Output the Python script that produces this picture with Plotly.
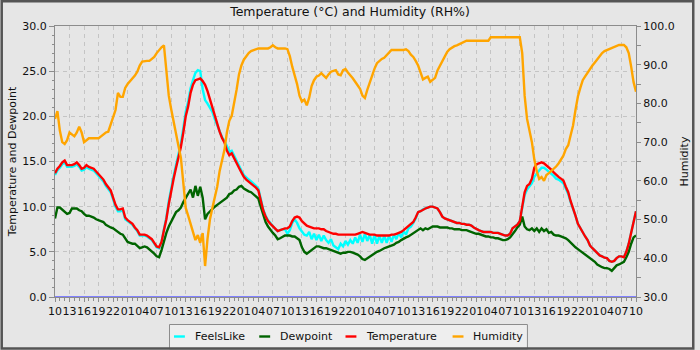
import pandas as pd
import plotly.graph_objects as go

# Half-hourly observations over five days, starting at 10:00
start = pd.Timestamp("2024-03-10 10:00")
times = pd.date_range(start, periods=241, freq="30min")

temperature = [
    13.7, 14.2, 14.5, 14.9, 15.1, 14.6, 14.6, 14.6, 14.7, 14.9,
    14.6, 14.2, 14.3, 14.6, 14.4, 14.3, 14.2, 13.9, 13.6, 13.3,
    13.0, 12.5, 12.2, 11.8, 11.0, 10.2, 9.7, 9.7, 9.8, 8.8,
    8.5, 8.3, 8.1, 7.7, 7.4, 6.9, 6.9, 6.9, 6.8, 6.6,
    6.4, 6.0, 5.6, 5.5, 6.1, 7.4, 8.6, 10.3, 11.8, 13.1,
    14.3, 15.3, 16.6, 18.2, 20.0, 21.1, 22.6, 23.5, 24.0, 24.1,
    24.2, 23.9, 23.5, 22.8, 21.9, 20.9, 19.9, 19.1, 18.3, 17.6,
    17.1, 16.2, 15.7, 15.9, 15.3, 14.8, 14.3, 13.8, 13.3, 13.0,
    12.8, 12.6, 12.4, 12.1, 11.8, 10.6, 9.6, 8.9, 8.4, 8.1,
    7.8, 7.5, 7.3, 7.4, 7.5, 7.6, 7.6, 7.8, 8.4, 8.8,
    8.9, 8.8, 8.4, 8.1, 7.9, 7.8, 7.7, 7.6, 7.6, 7.6,
    7.5, 7.5, 7.3, 7.2, 7.1, 7.0, 7.0, 6.9, 6.9, 6.9,
    6.9, 6.9, 6.9, 6.9, 6.9, 7.0, 7.1, 7.2, 7.1, 7.0,
    6.9, 6.9, 6.9, 6.8, 6.8, 6.8, 6.8, 6.8, 6.8, 6.9,
    6.9, 7.0, 7.1, 7.2, 7.4, 7.6, 7.8, 8.0, 8.3, 8.8,
    9.4, 9.5, 9.7, 9.8, 9.9, 10.0, 10.0, 9.9, 9.8, 9.4,
    8.9, 8.7, 8.6, 8.5, 8.4, 8.3, 8.2, 8.2, 8.1, 8.1,
    8.0, 8.0, 7.9, 7.7, 7.5, 7.4, 7.3, 7.2, 7.2, 7.2,
    7.2, 7.1, 7.1, 7.1, 7.0, 6.9, 6.8, 6.8, 7.0, 7.6,
    7.8, 8.0, 8.4, 10.2, 11.6, 12.3, 12.5, 13.1, 14.3, 14.7,
    14.8, 14.9, 14.8, 14.6, 14.4, 14.1, 13.8, 13.5, 13.3, 13.1,
    12.9, 12.2, 11.6, 10.6, 9.9, 9.0, 8.1, 7.6, 7.1, 6.7,
    6.3, 5.7, 5.4, 5.1, 4.8, 4.6, 4.5, 4.35, 4.3, 4.0,
    3.9, 4.0, 4.3, 4.5, 4.5, 4.4, 5.0, 5.9, 7.1, 8.4, 9.5,
]

feels_like = [
    13.5, 14.0, 14.3, 14.7, 14.9, 14.4, 14.4, 14.4, 14.5, 14.7,
    14.4, 14.0, 14.1, 14.4, 14.2, 14.1, 14.0, 13.7, 13.4, 13.1,
    12.8, 12.3, 12.0, 11.6, 10.8, 10.0, 9.5, 9.5, 9.6, 8.6,
    8.4, 8.2, 8.0, 7.6, 7.3, 6.8, 6.8, 6.8, 6.7, 6.5,
    6.3, 5.9, 5.5, 5.4, 6.1, 7.5, 8.8, 10.6, 12.1, 13.4,
    14.6, 15.7, 17.0, 18.7, 20.5, 21.6, 23.1, 24.0, 24.8, 25.1,
    25.0, 23.0, 21.8, 21.4, 21.0, 20.5, 19.7, 19.0, 18.3, 17.7,
    17.3, 16.6, 16.1, 16.2, 15.6, 15.1, 14.5, 14.0, 13.5, 13.2,
    13.0, 12.8, 12.6, 12.3, 12.0, 10.8, 9.7, 9.0, 8.5, 8.2,
    7.8, 7.5, 7.3, 7.4, 7.5, 7.5, 7.0, 7.4, 8.2, 8.6,
    8.2, 7.6, 7.2, 6.9, 6.8, 7.2, 6.4, 7.0, 6.3, 6.9,
    6.2, 6.8, 6.3, 6.0, 6.4, 5.7, 5.5, 5.3, 5.9, 5.6,
    6.2, 5.8, 6.3, 5.9, 6.6, 6.0, 6.9, 6.1, 7.0, 6.2,
    6.9, 5.9, 6.9, 5.9, 6.8, 6.0, 6.8, 6.0, 6.8, 6.1,
    6.9, 6.4, 7.1, 6.6, 7.3, 6.9, 7.6, 7.8, 8.2, 8.7,
    9.4, 9.5, 9.7, 9.8, 9.9, 10.0, 10.0, 9.9, 9.8, 9.4,
    8.9, 8.7, 8.6, 8.5, 8.4, 8.3, 8.2, 8.2, 8.1, 8.1,
    8.0, 8.0, 7.9, 7.7, 7.5, 7.4, 7.3, 7.2, 7.2, 7.2,
    7.2, 7.1, 7.1, 7.1, 7.0, 6.9, 6.8, 6.8, 7.0, 7.6,
    7.8, 8.0, 8.4, 10.0, 11.3, 11.9, 12.2, 12.6, 13.3, 13.7,
    14.0, 14.3, 14.3, 14.1, 13.9, 13.6, 13.4, 13.1, 13.0, 12.8,
    12.6, 12.0, 11.4, 10.5, 9.8, 9.0, 8.1, 7.6, 7.1, 6.7,
    6.3, 5.7, 5.4, 5.1, 4.8, 4.6, 4.5, 4.35, 4.3, 4.0,
    3.9, 4.0, 4.3, 4.5, 4.5, 4.4, 5.0, 5.9, 7.1, 8.4, 9.5,
]

dewpoint = [
    8.7, 9.9, 9.9, 9.7, 9.5, 9.2, 9.3, 9.8, 9.8, 9.8,
    9.6, 9.5, 9.2, 9.0, 9.0, 8.9, 8.8, 8.6, 8.5, 8.4,
    8.3, 8.0, 7.8, 7.7, 7.6, 7.4, 7.1, 7.0, 6.9, 6.5,
    6.1, 6.0, 5.9, 5.9, 5.6, 5.4, 5.5, 5.6, 5.5, 5.3,
    5.1, 4.8, 4.5, 4.4, 5.2, 6.2, 7.1, 7.8, 8.4, 9.0,
    9.4, 9.6, 9.9, 10.5, 11.0, 11.5, 11.9, 11.0, 12.3, 11.2,
    12.2, 11.0, 8.6, 9.2, 9.5, 9.8, 10.0, 10.2, 10.4, 10.6,
    10.7, 11.0, 11.4, 11.5, 11.8, 11.9, 12.2, 12.3, 12.0, 11.8,
    11.7, 11.6, 11.4, 11.2, 10.9, 10.0, 9.1, 8.3, 7.8, 7.4,
    7.1, 6.8, 6.4, 6.5, 6.7, 6.8, 6.8, 6.8, 6.7, 6.7,
    6.5, 6.3, 5.5, 5.0, 4.8, 5.0, 5.2, 5.4, 5.6, 5.6,
    5.5, 5.4, 5.4, 5.3, 5.2, 5.1, 5.0, 4.9, 4.8, 4.9,
    4.9, 5.0, 5.0, 4.9, 4.8, 4.7, 4.5, 4.2, 4.1, 4.3,
    4.5, 4.7, 4.8, 5.0, 5.1, 5.3, 5.4, 5.5, 5.6, 5.7,
    5.8, 6.0, 6.1, 6.3, 6.5, 6.6, 6.7, 6.9, 7.0, 7.2,
    7.5, 7.6, 7.4, 7.6, 7.5, 7.7, 7.8, 7.8, 7.8, 7.7,
    7.7, 7.7, 7.7, 7.6, 7.6, 7.5, 7.5, 7.5, 7.4, 7.4,
    7.4, 7.3, 7.2, 7.1, 7.0, 7.0, 6.9, 6.8, 6.7, 6.7,
    6.6, 6.6, 6.5, 6.5, 6.4, 6.3, 6.3, 6.4, 6.6, 6.9,
    7.3, 7.7, 8.0, 8.9, 7.8, 7.5, 7.4, 7.6, 7.3, 7.6,
    7.2, 7.6, 7.3, 7.5, 7.1, 7.2, 6.9, 6.8, 6.8, 6.7,
    6.6, 6.5, 6.3, 6.0, 5.7, 5.5, 5.3, 5.1, 5.0, 4.8,
    4.6, 4.4, 4.2, 3.9, 3.6, 3.4, 3.3, 3.2, 3.2, 3.1,
    2.9, 3.2, 3.5, 3.6, 3.8, 3.9, 4.4, 5.0, 5.9, 6.6, 6.8,
]

humidity = [
    76, 78, 73, 70, 69.5, 70.5, 72.5, 72, 71.5, 72.5,
    74, 72.5, 70, 70.5, 71, 71, 71, 71, 71, 71.5,
    72, 72.5, 72.7, 74.5, 76.5, 78.3, 82.7, 81.7, 81.7, 84,
    85, 85.7, 86.3, 87.2, 88.2, 89.8, 90.8, 91, 91, 91,
    91.5, 92, 93, 93.8, 94.5, 95, 88, 82, 78.5, 75,
    72, 69, 66, 59, 53, 51, 49, 47, 44.7, 46,
    44, 46.5, 38, 45, 50, 53, 55.5, 58.5, 62.5, 65.5,
    68, 72.5, 75.5, 76.8, 79.8, 83.5, 87.5, 89.8, 91.3, 92.3,
    93, 93.5, 93.8, 94, 94.2, 94.2, 94.2, 94.2, 94.2, 94.5,
    95, 94.5, 94.2, 94.2, 94.2, 94.2, 94, 92.2, 89.5, 87.5,
    85, 82, 80.5, 81, 79.5, 81.5, 84.5, 86, 86.9, 87.2,
    87.8, 87.2, 86.6, 87.5, 88.2, 88.4, 88.6, 87.5, 87.3, 88.6,
    88.9, 88, 87.3, 86.5, 85.6, 84.8, 83.8, 82, 81.4, 83.5,
    85.5, 87.3, 89, 90.4, 91, 91.5, 91.8, 92.5, 93.2, 93.8,
    93.8, 93.8, 93.8, 93.8, 93.8, 94, 93.5, 92.6, 92, 91,
    89.8, 88, 86.2, 86.6, 86.9, 85.6, 86, 86.6, 88.5, 89.8,
    91, 92.3, 93.3, 94, 94.5, 94.8, 95, 95.3, 95.6, 95.9,
    96.2, 96.2, 96.2, 96.2, 96.2, 96.2, 96.2, 96.2, 96.2, 96.2,
    97.1, 97.1, 97.1, 97.1, 97.1, 97.1, 97.1, 97.1, 97.1, 97.1,
    97.1, 97.1, 97.1, 93, 82, 76, 73, 70, 65.5, 62.5,
    60.5, 61, 60, 61.5, 62, 62.5, 63, 63.7, 64.5, 65.5,
    66.5, 68.2, 69.2, 71.8, 74.3, 78.3, 81.8, 84, 86, 87,
    88, 88.8, 89.8, 90.6, 91.5, 92.3, 93, 93.5, 93.8, 94,
    94.2, 94.5, 95, 95.1, 95.1, 95.1, 94.5, 93, 89.5, 85.5, 83,
]

series = [
    ("FeelsLike", feels_like, "#00ffff", "y"),
    ("Dewpoint", dewpoint, "#006400", "y"),
    ("Temperature", temperature, "#ff0000", "y"),
    ("Humidity", humidity, "#ffa500", "y2"),
]

W, H = 700, 350
ML, MR, MT, MB = 55, 59, 26, 53
PW, PH = W - ML - MR, H - MT - MB


def paper_x(px):
    return (px - ML) / PW


def paper_y(py):
    return (H - MB - py) / PH


BG = "#e6e6e6"
AXIS = "#8c8c8c"
GRID = "#c4c4c4"
FONT = dict(family="DejaVu Sans", size=11, color="#111111")
LINE_W = 2.4

fig = go.Figure()
for name, values, color, axis in series:
    fig.add_trace(go.Scatter(
        x=times, y=values, name=name, mode="lines", yaxis=axis,
        line=dict(color=color, width=LINE_W), showlegend=False,
    ))

shapes = [
    # baseline marker along the zero value
    dict(type="line", xref="paper", x0=0, x1=1, yref="y", y0=0, y1=0,
         line=dict(color="#8080ff", width=2), layer="above"),
    # legend box
    dict(type="rect", xref="paper", yref="paper",
         x0=paper_x(170.5), x1=paper_x(531.5), y0=paper_y(324.5), y1=paper_y(349),
         line=dict(color="#8c8c8c", width=1), fillcolor="#eeeeee", layer="above"),
    # outer frame
    dict(type="rect", xref="paper", yref="paper",
         x0=paper_x(1.25), x1=paper_x(698.75), y0=paper_y(1.25), y1=paper_y(348.5),
         line=dict(color="#555555", width=2.5), layer="above"),
]
annotations = []

# legend entries: short line sample followed by the series name
legend_left = [175, 261, 348, 456]
legend_mid = paper_y(336.5)
for (name, _, color, _), lx in zip(series, legend_left):
    shapes.append(dict(type="line", xref="paper", yref="paper",
                       x0=paper_x(lx), x1=paper_x(lx + 11), y0=legend_mid, y1=legend_mid,
                       line=dict(color=color, width=LINE_W), layer="above"))
    annotations.append(dict(text=name, xref="paper", yref="paper",
                            x=paper_x(lx + 19), y=legend_mid, xanchor="left",
                            yanchor="middle", showarrow=False, font=FONT))

fig.update_layout(
    width=W, height=H, autosize=False,
    margin=dict(l=ML, r=MR, t=MT, b=MB, pad=0),
    paper_bgcolor=BG, plot_bgcolor=BG,
    font=FONT,
    title=dict(text="Temperature (°C) and Humidity (RH%)", x=0.5, xref="container",
               y=1 - 12 / H, yref="container", xanchor="center", yanchor="middle",
               font=dict(family="DejaVu Sans", size=12.5, color="#111111")),
    showlegend=False,
    xaxis=dict(
        type="date", range=[times[0], times[-1]], tick0=times[0], dtick=3 * 3600000,
        tickformat="%H", tickangle=0, ticks="outside", ticklen=4, tickcolor=AXIS,
        minor=dict(dtick=3600000, ticks="outside", ticklen=3, tickcolor=AXIS, showgrid=False),
        showgrid=True, gridcolor=GRID, griddash="4px,4px", gridwidth=1,
        showline=True, linecolor=AXIS, linewidth=1, mirror=True,
        zeroline=False, tickfont=FONT,
    ),
    yaxis=dict(
        range=[0, 30], dtick=5, tickformat=".1f", ticks="outside", ticklen=5,
        tickcolor=AXIS,
        minor=dict(dtick=1, ticks="outside", ticklen=2, tickcolor=AXIS, showgrid=False),
        showgrid=True, gridcolor=GRID, griddash="4px,4px", gridwidth=1,
        showline=True, linecolor=AXIS, linewidth=1, zeroline=False,
        title=dict(text="Temperature and Dewpoint", font=FONT, standoff=3),
        tickfont=FONT,
    ),
    yaxis2=dict(
        overlaying="y", side="right", range=[30, 100], dtick=10, tickformat=".1f",
        ticks="outside", ticklen=4, tickcolor=AXIS,
        minor=dict(dtick=5, ticks="outside", ticklen=4, tickcolor=AXIS, showgrid=False),
        showgrid=False, showline=True, linecolor=AXIS, linewidth=1, zeroline=False,
        title=dict(text="Humidity", font=FONT, standoff=6),
        tickfont=FONT,
    ),
    shapes=shapes,
    annotations=annotations,
)

fig.write_html("out.html")
